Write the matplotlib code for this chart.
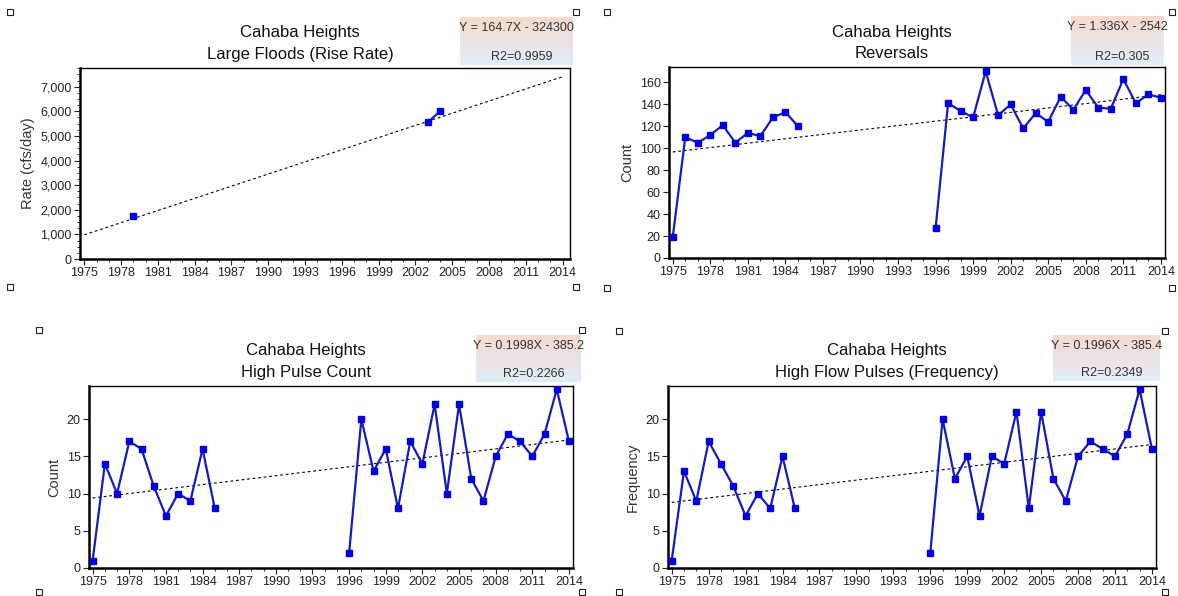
import numpy as np
import matplotlib
matplotlib.use("Agg")
import matplotlib.pyplot as plt
from matplotlib.ticker import MultipleLocator, FuncFormatter

plt.rcParams['font.family'] = ['Liberation Sans', 'DejaVu Sans']

# ---- data ----
# None marks a break in the line (missing years)
years_flood = [1979, None, 2003, 2004]
rise_rate = [1750, None, 5550, 6000]

years = list(range(1975, 1986)) + [None] + list(range(1996, 2015))
reversals = [19, 110, 105, 112, 121, 105, 114, 111, 128, 133, 120, None,
             27, 141, 134, 128, 170, 130, 140, 118, 132, 124, 147, 135, 153,
             137, 136, 163, 141, 149, 146]
pulse_count = [1, 14, 10, 17, 16, 11, 7, 10, 9, 16, 8, None,
               2, 20, 13, 16, 8, 17, 14, 22, 10, 22, 12, 9, 15, 18, 17, 15,
               18, 24, 17]
pulse_freq = [1, 13, 9, 17, 14, 11, 7, 10, 8, 15, 8, None,
              2, 20, 12, 15, 7, 15, 14, 21, 8, 21, 12, 9, 15, 17, 16, 15,
              18, 24, 16]

# trend coefficients as shown in the chart boxes
trend_slope = [164.7, 1.336, 0.1998, 0.1996]
trend_icpt = [-324300, -2542, -385.2, -385.4]
trend_r2 = ["0.9959", "0.305", "0.2266", "0.2349"]
trend_lbl = ["164.7X - 324300", "1.336X - 2542", "0.1998X - 385.2", "0.1996X - 385.4"]

titles = ["Large Floods (Rise Rate)", "Reversals", "High Pulse Count",
          "High Flow Pulses (Frequency)"]
ylabels = ["Rate (cfs/day)", "Count", "Count", "Frequency"]

W, H = 1178, 596
fig = plt.figure(figsize=(W / 100, H / 100), dpi=100)


def px_axes(l, t, r, b):
    return fig.add_axes([l / W, 1 - b / H, (r - l) / W, (b - t) / H])


def to_arr(seq):
    return np.array([np.nan if v is None else v for v in seq], float)


boxes = [(80, 68, 570, 259), (669, 67, 1165, 258),
         (89, 386, 573, 568), (668, 386, 1156, 568)]
ylims = [7760, 174, 24.45, 24.45]
ymajor = [1000, 20, 5, 5]
yminor = [250, None, None, None]

xs = [to_arr(years_flood)] + [to_arr(years)] * 3
ys = [to_arr(s) for s in (rise_rate, reversals, pulse_count, pulse_freq)]

for i, (l, t, r, b) in enumerate(boxes):
    ax = px_axes(l, t, r, b)
    x0 = 1974.65 if i == 0 else 1974.7
    x1 = 2014.6 if i == 0 else 2014.33
    tx = np.array([1975, 2014], float)
    ax.plot(tx, trend_slope[i] * tx + trend_icpt[i], ls=(0, (2.5, 2.5)),
            color='black', lw=0.8, zorder=2)
    ax.plot(xs[i], ys[i], color='#1a1ab8', lw=1.6, marker='s', ms=5,
            mfc='#0000e0', mec='#0000e0', zorder=3)
    ax.set_xlim(x0, x1)
    ax.set_ylim(0, ylims[i])
    ax.set_xticks(range(1975, 2015, 3))
    ax.xaxis.set_minor_locator(MultipleLocator(1))
    ax.yaxis.set_major_locator(MultipleLocator(ymajor[i]))
    if yminor[i]:
        ax.yaxis.set_minor_locator(MultipleLocator(yminor[i]))
    if i == 0:
        ax.yaxis.set_major_formatter(FuncFormatter(lambda v, p: f"{int(v):,}"))
    ax.tick_params(direction='out', length=4, width=0.8, labelsize=9,
                   colors='#222222', pad=2)
    ax.tick_params(which='minor', direction='out', length=2, width=0.6)
    for side in ('top', 'right'):
        ax.spines[side].set_linewidth(1.0)
    for side in ('left', 'bottom'):
        ax.spines[side].set_linewidth(1.8)
    ax.set_ylabel(ylabels[i], fontsize=10.5, color='#333333', labelpad=4)
    # title above the plot area
    cx = (l + r) / 2 - 25
    fig.text(cx / W, 1 - (t - 35) / H, "Cahaba Heights", ha='center',
             va='center', fontsize=12, color='#111111')
    fig.text(cx / W, 1 - (t - 14) / H, titles[i], ha='center',
             va='center', fontsize=12, color='#111111')

# overlay for equation boxes and selection handles
ov = fig.add_axes([0, 0, 1, 1], zorder=10)
ov.axis('off')

eq_boxes = [(460, 17, 573, 65), (1071, 16, 1164, 65),
            (476, 335, 581, 382), (1053, 335, 1160, 381)]
top_c = np.array([246, 218, 204]) / 255
bot_c = np.array([226, 237, 250]) / 255
grad = np.linspace(0, 1, 64)[:, None, None]
grad_img = top_c * (1 - grad) + bot_c * grad
for i, (l, t, r, b) in enumerate(eq_boxes):
    ov.imshow(grad_img, extent=(l, r, b, t), aspect='auto', zorder=1)
    ov.text((l + r) / 2, t + 11, "Y = " + trend_lbl[i], ha='center',
            va='center', fontsize=9, color='#333333', zorder=2)
    ov.text((l + r) / 2 + 5, b - 8, "R2=" + trend_r2[i], ha='center',
            va='center', fontsize=9, color='#333333', zorder=2)

handles_x = [10, 576, 607, 1172, 39, 582, 619, 1165]
handles_y = [12, 287, 12, 288, 330, 592, 331, 592]
hx, hy = [], []
for k in range(4):
    for xx in handles_x[2 * k:2 * k + 2]:
        for yy in handles_y[2 * k:2 * k + 2]:
            hx.append(xx)
            hy.append(yy)
ov.plot(hx, hy, ls='none', marker='s', ms=4, mfc='white', mec='#222222',
        mew=0.8, zorder=3)
ov.set_xlim(0, W)
ov.set_ylim(H, 0)

fig.savefig("out.png", dpi=100)
